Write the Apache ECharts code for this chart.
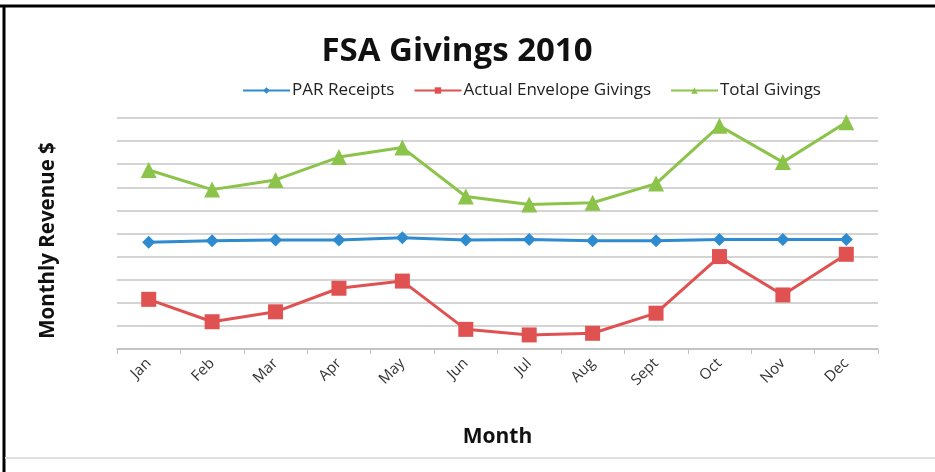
<!DOCTYPE html>
<html>
<head>
<meta charset="utf-8">
<script src="https://cdn.jsdelivr.net/npm/echarts@6/dist/echarts.min.js"></script>
<style>html,body{margin:0;padding:0;background:#fff}#c{width:935px;height:472px}</style>
</head>
<body>
<div id="c"></div>
<script>
var months = ['Jan','Feb','Mar','Apr','May','Jun','Jul','Aug','Sept','Oct','Nov','Dec'];
var parReceipts = [4.62,4.69,4.72,4.72,4.82,4.72,4.74,4.69,4.69,4.74,4.74,4.74];
var actualEnvelope = [2.15,1.18,1.61,2.63,2.94,0.85,0.61,0.68,1.55,4.00,2.34,4.10];
var totalGivings = [7.75,6.90,7.32,8.31,8.72,6.60,6.26,6.33,7.16,9.66,8.09,9.82];

var chart = echarts.init(document.getElementById('c'));
var FONT = '"Open Sans", Lato, sans-serif';
chart.setOption({
  animation: false,
  backgroundColor: '#ffffff',
  title: {
    text: 'FSA Givings 2010',
    left: 452, top: 30, textAlign: 'center',
    textStyle: {fontFamily: FONT, fontSize: 33, fontWeight: 'bold', color: '#111'}
  },
  legend: {
    top: 77, left: 237,
    itemWidth: 47, itemHeight: 8, itemGap: 19,
    textStyle: {fontFamily: FONT, fontSize: 17, color: '#222', padding: [0,0,0,-3]},
    data: ['PAR Receipts','Actual Envelope Givings','Total Givings']
  },
  grid: {left: 117, right: 57, top: 118, bottom: 123},
  xAxis: {
    type: 'category', data: months, boundaryGap: true,
    name: 'Month', nameLocation: 'middle', nameGap: 78,
    nameTextStyle: {fontFamily: FONT, fontSize: 21, fontWeight: 'bold', color: '#111'},
    axisLine: {lineStyle: {color: '#bfbfbf', width: 1.5}},
    axisTick: {show: true, length: 5, lineStyle: {color: '#bfbfbf'}},
    axisLabel: {rotate: 45, margin: 12, fontFamily: FONT, fontSize: 15, color: '#333'}
  },
  yAxis: {
    type: 'value', min: 0, max: 10, interval: 1,
    name: 'Monthly Revenue $', nameLocation: 'middle', nameGap: 58,
    nameTextStyle: {fontFamily: FONT, fontSize: 20.5, fontWeight: 'bold', color: '#111', padding: [0, 14, 0, 0]},
    axisLine: {show: false}, axisTick: {show: false},
    axisLabel: {show: false},
    splitLine: {lineStyle: {color: '#d4d4d4', width: 2}}
  },
  series: [
    {name: 'PAR Receipts', type: 'line', data: parReceipts, symbol: 'diamond', symbolSize: 13,
     itemStyle: {color: '#2e8bd0'}, lineStyle: {width: 3, color: '#2e8bd0'}},
    {name: 'Actual Envelope Givings', type: 'line', data: actualEnvelope, symbol: 'rect', symbolSize: 15,
     itemStyle: {color: '#e05252'}, lineStyle: {width: 3, color: '#e05252'}},
    {name: 'Total Givings', type: 'line', data: totalGivings, symbol: 'triangle', symbolSize: 16,
     itemStyle: {color: '#8cc34a'}, lineStyle: {width: 3, color: '#8cc34a'}}
  ],
  graphic: [
    {type: 'line', shape: {x1: 0, y1: 6, x2: 935, y2: 6}, style: {stroke: '#000', lineWidth: 3}},
    {type: 'line', shape: {x1: 4, y1: 5, x2: 4, y2: 472}, style: {stroke: '#000', lineWidth: 3}},
    {type: 'line', shape: {x1: 5, y1: 458, x2: 935, y2: 458}, style: {stroke: '#e0e0e0', lineWidth: 2}}
  ]
});
</script>
</body>
</html>
